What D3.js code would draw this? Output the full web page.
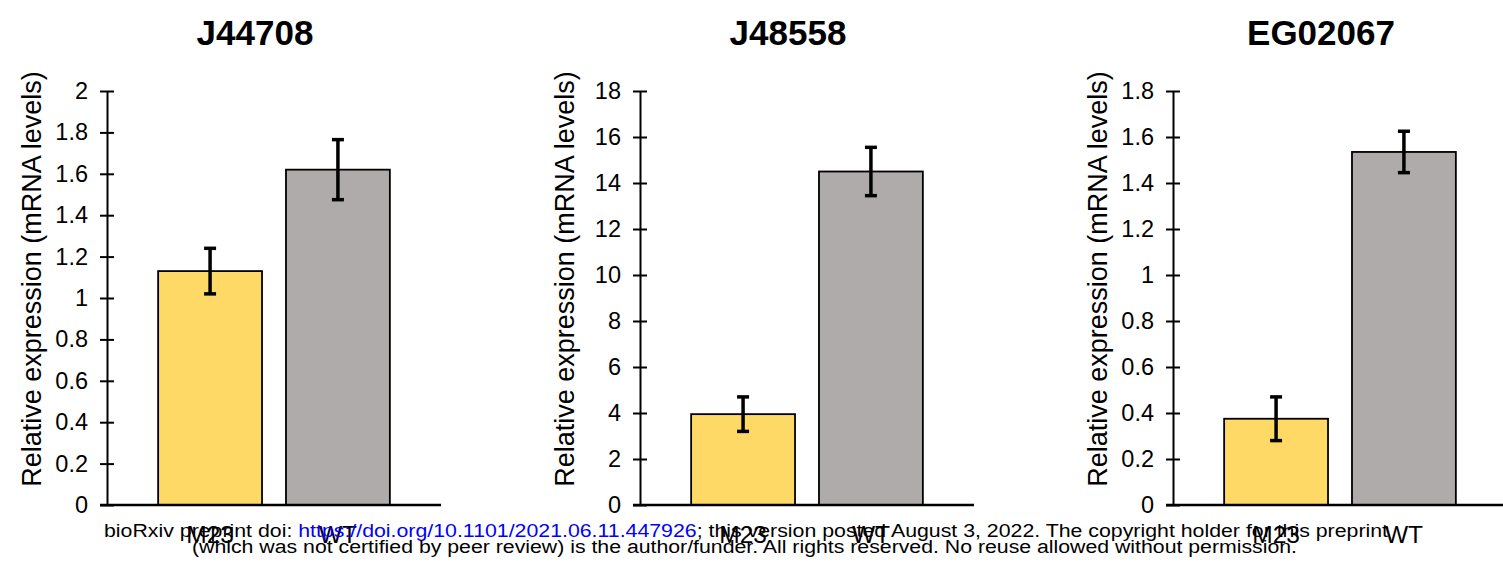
<!DOCTYPE html>
<html>
<head>
<meta charset="utf-8">
<script src="https://cdn.jsdelivr.net/npm/d3@7"></script>
<style>
  body { margin: 0; background: #fff; }
  text { font-family: "Liberation Sans", Arial, sans-serif; }
</style>
</head>
<body>
<svg id="chart" width="1503" height="564"></svg>
<script>
const genes = ["J44708", "J48558", "EG02067"];
const groups = ["M23", "WT"];
const means = [[1.13, 1.62], [3.95, 14.5], [0.375, 1.535]];
const errors = [[0.11, 0.145], [0.75, 1.05], [0.095, 0.09]];
const yMax = [2, 18, 1.8];
const yStep = [0.2, 2, 0.2];
const colors = ["#FFD966", "#AFABAB"];
const yLabel = "Relative expression (mRNA levels)";

const svg = d3.select("#chart");
const plotTop = 91, plotBottom = 505;
const panelX = [107, 640, 1173];

genes.forEach((gene, p) => {
  const ax = panelX[p];
  const x = d3.scaleBand()
    .domain(groups)
    .range([ax, ax + 334])
    .paddingInner(0.1875)
    .paddingOuter(0.4);
  const y = d3.scaleLinear().domain([0, yMax[p]]).range([plotBottom, plotTop]);
  const ticks = d3.range(0, yMax[p] + yStep[p] / 2, yStep[p]);

  const g = svg.append("g");

  // title
  g.append("text")
    .attr("x", ax + 148)
    .attr("y", 45)
    .attr("text-anchor", "middle")
    .style("font-size", "35px")
    .style("font-weight", "bold")
    .text(gene);

  // bars
  g.selectAll("rect")
    .data(groups)
    .join("rect")
    .attr("x", d => x(d))
    .attr("width", x.bandwidth())
    .attr("y", (d, i) => y(means[p][i]))
    .attr("height", (d, i) => plotBottom - y(means[p][i]))
    .attr("fill", (d, i) => colors[i])
    .attr("stroke", "#000")
    .attr("stroke-width", 1.8);

  // error bars
  groups.forEach((d, i) => {
    const cx = x(d) + x.bandwidth() / 2;
    const hi = y(means[p][i] + errors[p][i]);
    const lo = y(means[p][i] - errors[p][i]);
    g.append("line").attr("x1", cx).attr("x2", cx).attr("y1", hi).attr("y2", lo)
      .attr("stroke", "#000").attr("stroke-width", 3.5);
    [hi, lo].forEach(v => {
      g.append("line").attr("x1", cx - 6).attr("x2", cx + 6).attr("y1", v).attr("y2", v)
        .attr("stroke", "#000").attr("stroke-width", 3.5);
    });
  });

  // y axis
  const yAxis = g.append("g")
    .attr("transform", `translate(${ax},0)`)
    .call(d3.axisLeft(y).tickValues(ticks).tickSize(7).tickSizeOuter(0).tickFormat(d3.format("~g")).tickPadding(12));
  yAxis.select(".domain").attr("stroke", "#000").attr("stroke-width", 2);
  yAxis.selectAll(".tick line").attr("x1", 7).attr("stroke-width", 2);
  yAxis.selectAll(".tick text")
    .style("font-size", "23.5px")
    .style("font-family", "'Liberation Sans', Arial, sans-serif")
    .attr("fill", "#000");

  // x axis
  const xAxis = g.append("g")
    .attr("transform", `translate(0,${plotBottom})`)
    .call(d3.axisBottom(x).tickSize(0).tickPadding(21).tickSizeOuter(0));
  xAxis.select(".domain").attr("d", `M${ax - 7},0H${ax + 334}`).attr("stroke", "#000").attr("stroke-width", 2.5);
  xAxis.selectAll(".tick text")
    .style("font-size", "24.5px")
    .style("font-family", "'Liberation Sans', Arial, sans-serif")
    .attr("fill", "#000");

  // y label
  g.append("text")
    .attr("transform", `translate(${ax - 66},279) rotate(-90)`)
    .attr("text-anchor", "middle")
    .style("font-size", "27px")
    .text(yLabel);
});

// bioRxiv notice
const line1 = svg.append("text")
  .attr("x", 104).attr("y", 537)
  .attr("textLength", 1284).attr("lengthAdjust", "spacingAndGlyphs")
  .style("font-size", "18px");
line1.append("tspan").text("bioRxiv preprint doi: ");
line1.append("tspan").attr("fill", "#0000ff").text("https://doi.org/10.1101/2021.06.11.447926");
line1.append("tspan").text("; this version posted August 3, 2022. The copyright holder for this preprint");

svg.append("text")
  .attr("x", 192).attr("y", 553)
  .attr("textLength", 1105).attr("lengthAdjust", "spacingAndGlyphs")
  .style("font-size", "18px")
  .text("(which was not certified by peer review) is the author/funder. All rights reserved. No reuse allowed without permission.");
</script>
</body>
</html>
